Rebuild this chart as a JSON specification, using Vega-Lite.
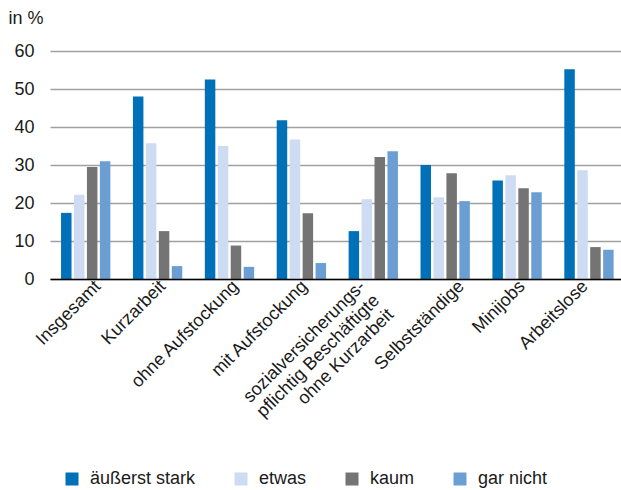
{
  "$schema": "https://vega.github.io/schema/vega-lite/v6.json",
  "width": 571,
  "height": 228,
  "autosize": {"type": "none"},
  "padding": {"left": 50, "top": 51, "right": 0, "bottom": 211},
  "background": "white",
  "config": {"view": {"stroke": null}, "font": "Liberation Sans"},
  "data": {
    "values": [
      {"Gruppe": "Insgesamt", "Bewertung": "äußerst stark", "Anteil": 17.4},
      {"Gruppe": "Insgesamt", "Bewertung": "etwas", "Anteil": 22.2},
      {"Gruppe": "Insgesamt", "Bewertung": "kaum", "Anteil": 29.5},
      {"Gruppe": "Insgesamt", "Bewertung": "gar nicht", "Anteil": 31.0},
      {"Gruppe": "Kurzarbeit", "Bewertung": "äußerst stark", "Anteil": 48.0},
      {"Gruppe": "Kurzarbeit", "Bewertung": "etwas", "Anteil": 35.7},
      {"Gruppe": "Kurzarbeit", "Bewertung": "kaum", "Anteil": 12.6},
      {"Gruppe": "Kurzarbeit", "Bewertung": "gar nicht", "Anteil": 3.4},
      {"Gruppe": "ohne Aufstockung", "Bewertung": "äußerst stark", "Anteil": 52.5},
      {"Gruppe": "ohne Aufstockung", "Bewertung": "etwas", "Anteil": 35.0},
      {"Gruppe": "ohne Aufstockung", "Bewertung": "kaum", "Anteil": 8.8},
      {"Gruppe": "ohne Aufstockung", "Bewertung": "gar nicht", "Anteil": 3.2},
      {"Gruppe": "mit Aufstockung", "Bewertung": "äußerst stark", "Anteil": 41.8},
      {"Gruppe": "mit Aufstockung", "Bewertung": "etwas", "Anteil": 36.7},
      {"Gruppe": "mit Aufstockung", "Bewertung": "kaum", "Anteil": 17.3},
      {"Gruppe": "mit Aufstockung", "Bewertung": "gar nicht", "Anteil": 4.2},
      {"Gruppe": "sozialversicherungspflichtig Beschäftigte ohne Kurzarbeit", "Bewertung": "äußerst stark", "Anteil": 12.6},
      {"Gruppe": "sozialversicherungspflichtig Beschäftigte ohne Kurzarbeit", "Bewertung": "etwas", "Anteil": 21.0},
      {"Gruppe": "sozialversicherungspflichtig Beschäftigte ohne Kurzarbeit", "Bewertung": "kaum", "Anteil": 32.1},
      {"Gruppe": "sozialversicherungspflichtig Beschäftigte ohne Kurzarbeit", "Bewertung": "gar nicht", "Anteil": 33.6},
      {"Gruppe": "Selbstständige", "Bewertung": "äußerst stark", "Anteil": 30.0},
      {"Gruppe": "Selbstständige", "Bewertung": "etwas", "Anteil": 21.5},
      {"Gruppe": "Selbstständige", "Bewertung": "kaum", "Anteil": 27.8},
      {"Gruppe": "Selbstständige", "Bewertung": "gar nicht", "Anteil": 20.5},
      {"Gruppe": "Minijobs", "Bewertung": "äußerst stark", "Anteil": 25.9},
      {"Gruppe": "Minijobs", "Bewertung": "etwas", "Anteil": 27.3},
      {"Gruppe": "Minijobs", "Bewertung": "kaum", "Anteil": 23.9},
      {"Gruppe": "Minijobs", "Bewertung": "gar nicht", "Anteil": 22.8},
      {"Gruppe": "Arbeitslose", "Bewertung": "äußerst stark", "Anteil": 55.2},
      {"Gruppe": "Arbeitslose", "Bewertung": "etwas", "Anteil": 28.6},
      {"Gruppe": "Arbeitslose", "Bewertung": "kaum", "Anteil": 8.4},
      {"Gruppe": "Arbeitslose", "Bewertung": "gar nicht", "Anteil": 7.7}
    ]
  },
  "mark": {"type": "bar"},
  "encoding": {
    "x": {
      "field": "Gruppe",
      "type": "nominal",
      "sort": null,
      "scale": {"paddingInner": 0.314, "paddingOuter": 0.128, "align": 0.6},
      "axis": {
        "title": null,
        "labelAngle": -45,
        "labelAlign": "right",
        "labelBaseline": "top",
        "labelPadding": -2,
        "tickSize": 0,
        "labelOffset": {
          "condition": [
            {"test": "datum.value === 'Insgesamt'", "value": 6},
            {"test": "datum.value === 'Kurzarbeit'", "value": -1},
            {"test": "datum.value === 'mit Aufstockung'", "value": -3},
            {"test": "datum.value === 'sozialversicherungspflichtig Beschäftigte ohne Kurzarbeit'", "value": -17},
            {"test": "datum.value === 'Selbstständige'", "value": 10},
            {"test": "datum.value === 'Minijobs'", "value": -1},
            {"test": "datum.value === 'Arbeitslose'", "value": -10}
          ],
          "value": 0
        },
        "labelFontSize": 18,
        "labelColor": "#1a1a1a",
        "labelLineHeight": 20,
        "labelLimit": 400,
        "labelExpr": "datum.value == 'sozialversicherungspflichtig Beschäftigte ohne Kurzarbeit' ? ['sozialversicherungs-\u00a0\u00a0\u00a0', 'pflichtig Beschäftigte', 'ohne Kurzarbeit\u00a0\u00a0\u00a0\u00a0\u00a0\u00a0'] : datum.label",
        "ticks": false,
        "domainColor": "#000000",
        "domainWidth": 1.5,
        "zindex": 1
      }
    },
    "xOffset": {
      "field": "Bewertung",
      "type": "nominal",
      "sort": ["äußerst stark", "etwas", "kaum", "gar nicht"],
      "scale": {"paddingInner": 0.19, "paddingOuter": 0}
    },
    "y": {
      "field": "Anteil",
      "type": "quantitative",
      "scale": {"domain": [0, 60]},
      "axis": {
        "values": [0, 10, 20, 30, 40, 50, 60],
        "title": "in %",
        "titleAngle": 0,
        "titleAlign": "left",
        "titleBaseline": "alphabetic",
        "titleX": -42,
        "titleY": -28,
        "titleFontSize": 18,
        "titleFontWeight": "normal",
        "titleColor": "#1a1a1a",
        "labelFontSize": 18,
        "labelColor": "#1a1a1a",
        "labelPadding": 16,
        "ticks": false,
        "domain": false,
        "gridColor": "#a0a0a0",
        "gridWidth": 1.5
      }
    },
    "color": {
      "field": "Bewertung",
      "type": "nominal",
      "sort": ["äußerst stark", "etwas", "kaum", "gar nicht"],
      "scale": {
        "domain": ["äußerst stark", "etwas", "kaum", "gar nicht"],
        "range": ["#0071b8", "#cddbf3", "#747474", "#6b9fd4"]
      },
      "legend": {
        "orient": "none",
        "legendX": 13,
        "legendY": 419,
        "direction": "horizontal",
        "title": null,
        "symbolType": "square",
        "symbolSize": 169,
        "symbolStrokeWidth": 0,
        "labelFontSize": 18,
        "labelColor": "#1a1a1a",
        "columnPadding": 36,
        "labelOffset": 9,
        "padding": 0
      }
    }
  }
}
